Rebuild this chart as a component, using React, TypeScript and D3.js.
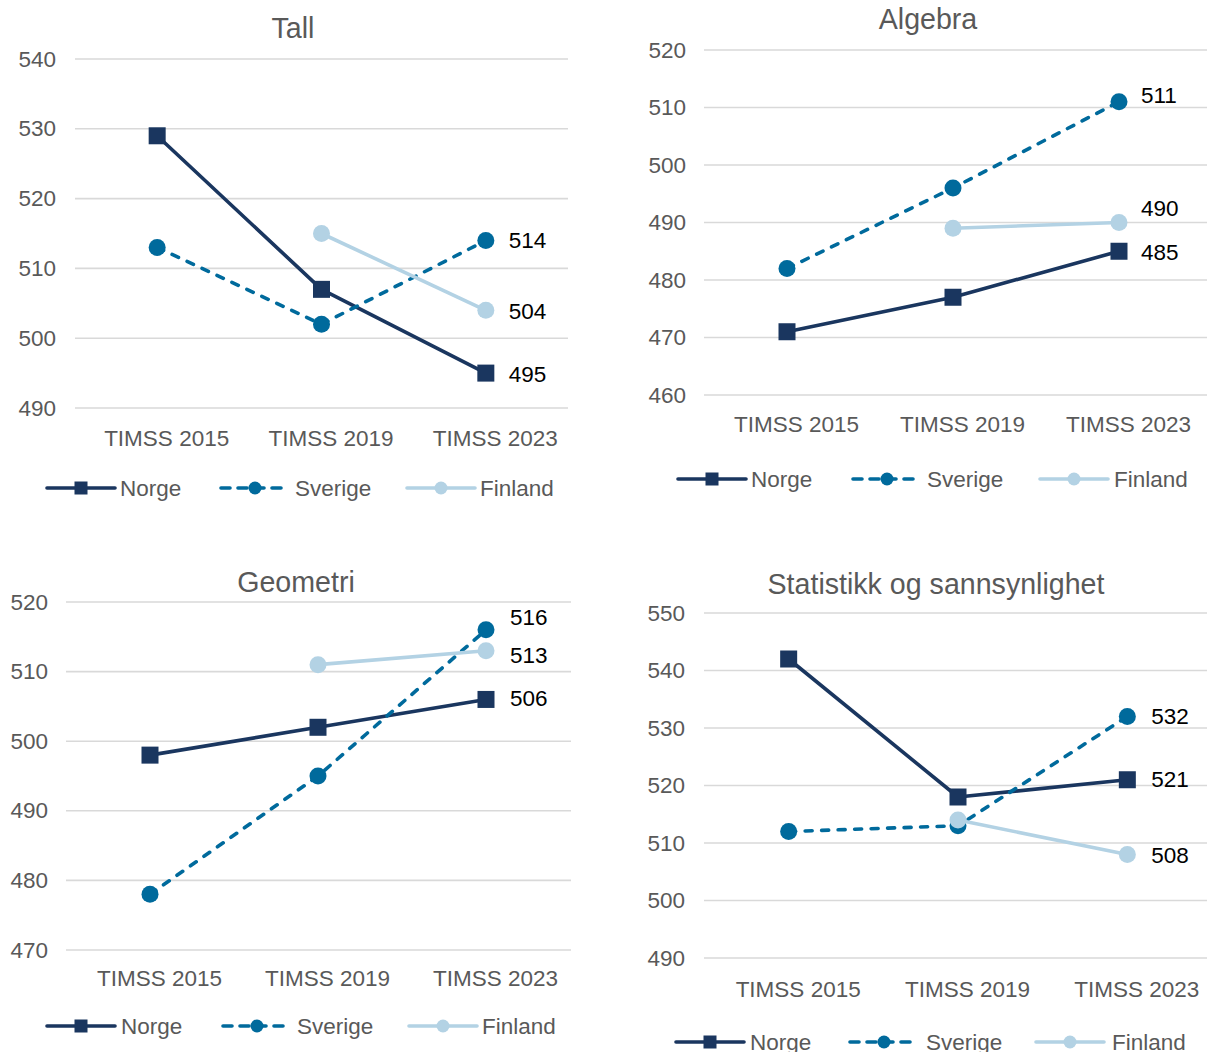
import React from "react";
import * as d3 from "d3";

// Categories and series
const periods = ["TIMSS 2015", "TIMSS 2019", "TIMSS 2023"];
const countries = ["Norge", "Sverige", "Finland"];

const tallNorge = [529, 507, 495];
const tallSverige = [513, 502, 514];
const tallFinland = [null, 515, 504];

const algebraNorge = [471, 477, 485];
const algebraSverige = [482, 496, 511];
const algebraFinland = [null, 489, 490];

const geometriNorge = [498, 502, 506];
const geometriSverige = [478, 495, 516];
const geometriFinland = [null, 511, 513];

const statNorge = [542, 518, 521];
const statSverige = [512, 513, 532];
const statFinland = [null, 514, 508];

const titles = ["Tall", "Algebra", "Geometri", "Statistikk og sannsynlighet"];
const yDomains: [number, number][] = [
  [490, 540],
  [460, 520],
  [470, 520],
  [490, 550],
];

// Series styles
const colors = ["#1a365f", "#006a9c", "#b3d2e4"];
const dashes = [null, "7 9.5", null];
const markerKind = ["square", "circle", "circle"];

type Layout = {
  x0: number; x1: number; gridX1: number;
  yTop: number; yBot: number;
  titleX: number; titleY: number;
  tickRight: number; xLabelY: number;
  legendY: number; legendLineX: number[]; legendTextX: number[];
  labelDy: number[]; labelDx: number;
};

const layouts: Layout[] = [
  {
    x0: 75, x1: 568, gridX1: 568, yTop: 59, yBot: 408,
    titleX: 293, titleY: 28, tickRight: 56, xLabelY: 438,
    legendY: 488, legendLineX: [47, 221, 407], legendTextX: [120, 295, 480],
    labelDy: [1, 0, 1], labelDx: 23,
  },
  {
    x0: 704, x1: 1202, gridX1: 1207, yTop: 50, yBot: 395,
    titleX: 928, titleY: 19, tickRight: 686, xLabelY: 424,
    legendY: 479, legendLineX: [678, 853, 1040], legendTextX: [751, 927, 1114],
    labelDy: [1, -6, -14], labelDx: 22,
  },
  {
    x0: 66, x1: 570, gridX1: 571, yTop: 602, yBot: 950,
    titleX: 296, titleY: 582, tickRight: 48, xLabelY: 978,
    legendY: 1026, legendLineX: [47, 223, 409], legendTextX: [121, 297, 482],
    labelDy: [-1, -12, 5], labelDx: 24,
  },
  {
    x0: 704, x1: 1212, gridX1: 1207, yTop: 613, yBot: 958,
    titleX: 936, titleY: 584, tickRight: 685, xLabelY: 989,
    legendY: 1042, legendLineX: [676, 850, 1036], legendTextX: [750, 926, 1112],
    labelDy: [0, 0, 1], labelDx: 24,
  },
];

// Category labels sit a little right of the band centres
const X_LABEL_SHIFT = 9.5;

const panelSeries: (number | null)[][][] = [
  [tallNorge, tallSverige, tallFinland],
  [algebraNorge, algebraSverige, algebraFinland],
  [geometriNorge, geometriSverige, geometriFinland],
  [statNorge, statSverige, statFinland],
];

const FONT = "'Liberation Sans', Arial, sans-serif";
const GRAY = "#595959";

function Marker({ kind, x, y, size, color }: { kind: string; x: number; y: number; size: number; color: string }) {
  if (kind === "square") {
    return <rect x={x - size / 2} y={y - size / 2} width={size} height={size} fill={color} />;
  }
  return <circle cx={x} cy={y} r={size / 2} fill={color} />;
}

function Panel({ idx }: { idx: number }) {
  const L = layouts[idx];
  const series = panelSeries[idx];
  const [lo, hi] = yDomains[idx];
  const x = d3.scaleBand<string>().domain(periods).range([L.x0, L.x1]);
  const cx = (p: string) => (x(p) as number) + x.bandwidth() / 2;
  const y = d3.scaleLinear().domain([lo, hi]).range([L.yBot, L.yTop]);
  const ticks = d3.range(lo, hi + 1, 10);

  const line = d3
    .line<number | null>()
    .defined((d) => d != null)
    .x((_, i) => cx(periods[i]))
    .y((d) => y(d as number));

  return (
    <g>
      <text x={L.titleX} y={L.titleY} textAnchor="middle" dominantBaseline="central"
        fontSize={28.6} fill={GRAY} fontFamily={FONT}>{titles[idx]}</text>
      {ticks.map((t) => (
        <g key={t}>
          <line x1={L.x0} x2={L.gridX1} y1={y(t)} y2={y(t)} stroke="#d9d9d9" strokeWidth={1.6} />
          <text x={L.tickRight} y={y(t)} textAnchor="end" dominantBaseline="central"
            fontSize={22.5} fill={GRAY} fontFamily={FONT}>{t}</text>
        </g>
      ))}
      {periods.map((p) => (
        <text key={p} x={cx(p) + X_LABEL_SHIFT} y={L.xLabelY} textAnchor="middle" dominantBaseline="central"
          fontSize={22.5} fill={GRAY} fontFamily={FONT}>{p}</text>
      ))}
      {series.map((vals, si) => (
        <g key={si}>
          <path d={line(vals) || ""} fill="none" stroke={colors[si]} strokeWidth={3.6}
            strokeDasharray={dashes[si] || undefined} strokeLinecap={dashes[si] ? "round" : "butt"}
            strokeLinejoin="round" />
          {vals.map((v, i) =>
            v == null ? null : (
              <Marker key={i} kind={markerKind[si]} x={cx(periods[i])} y={y(v)} size={17} color={colors[si]} />
            )
          )}
        </g>
      ))}
      {series.map((vals, si) => {
        const v = vals[vals.length - 1] as number;
        return (
          <text key={"lab" + si} x={cx(periods[periods.length - 1]) + L.labelDx} y={y(v) + L.labelDy[si]}
            dominantBaseline="central" fontSize={22.5} fill="#000" fontFamily={FONT}>{v}</text>
        );
      })}
      {countries.map((c, si) => {
        const lx = L.legendLineX[si];
        return (
          <g key={c}>
            <line x1={lx} x2={lx + 68} y1={L.legendY} y2={L.legendY} stroke={colors[si]} strokeWidth={3.6}
              strokeDasharray={dashes[si] ? "9 8" : undefined} strokeLinecap="round" />
            <Marker kind={markerKind[si]} x={lx + 34} y={L.legendY} size={13} color={colors[si]} />
            <text x={L.legendTextX[si]} y={L.legendY} dominantBaseline="central" fontSize={22.5}
              fill={GRAY} fontFamily={FONT}>{c}</text>
          </g>
        );
      })}
    </g>
  );
}

export default function App() {
  return (
    <div style={{ position: "absolute", left: 0, top: 0 }}>
      <svg width={1207} height={1052} style={{ display: "block", background: "#fff" }}>
        {layouts.map((_, i) => (
          <Panel key={i} idx={i} />
        ))}
      </svg>
    </div>
  );
}
